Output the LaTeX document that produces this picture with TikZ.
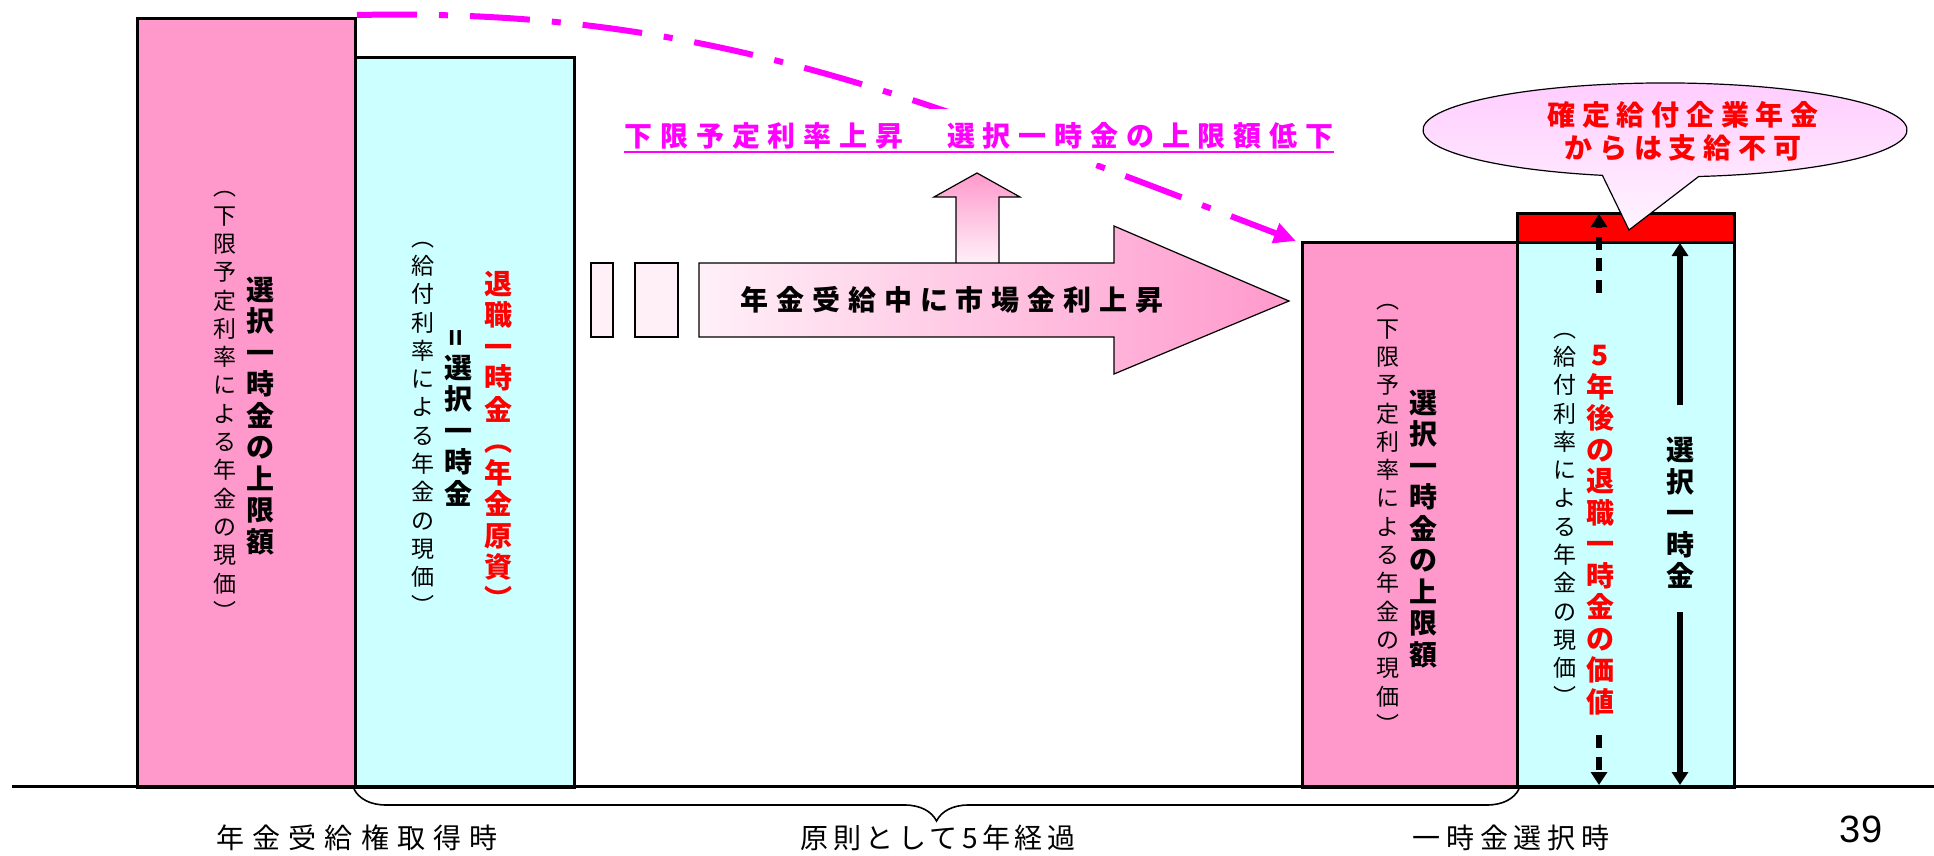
\documentclass[tikz,border=0pt]{standalone}
\usepackage{fontspec}
\usepackage{graphicx}
\newfontfamily\jp{Noto Sans CJK JP}
\newfontfamily\lsans{Liberation Sans}
\usetikzlibrary{arrows.meta,decorations.pathreplacing}
\definecolor{pk}{HTML}{FF99CC}
\definecolor{cy}{HTML}{CCFFFF}
\definecolor{lpk}{HTML}{FFF0F8}
\definecolor{mg}{HTML}{FF00FF}
\definecolor{rd}{HTML}{FF0000}
\definecolor{clt}{HTML}{FFCCFF}
\definecolor{clb}{HTML}{FFF4FF}
\begin{document}
\begin{tikzpicture}[x=0.5pt,y=-0.5pt,
  bar/.style={draw=black, line width=1.5pt, inner sep=0pt, anchor=north west},
  vbold/.style={align=center, inner sep=0pt, font=\jp\bfseries\fontsize{14}{15.75}\selectfont},
  vsmall/.style={align=center, inner sep=0pt, font=\jp\fontsize{11.5}{14.15}\selectfont},
  hbold/.style={inner sep=0pt, font=\jp\bfseries\fontsize{14}{16}\selectfont\addfontfeature{LetterSpace=28}},
  hreg/.style={inner sep=0pt, font=\jp\fontsize{14}{16}\selectfont\addfontfeature{LetterSpace=#1}},
  blk/.style={line width=2.6pt, -{Triangle[length=6.5pt,width=8pt]}},
  dsh/.style={blk, dash pattern=on 6.5pt off 4.3pt},
]
\useasboundingbox (0,0) rectangle (1934,856);

% bars
\node[bar, fill=pk, minimum width=109pt, minimum height=384.5pt] (lpink) at (136,17) {};
\node[bar, fill=cy, minimum width=109.5pt, minimum height=365pt] (lcyan) at (354,56) {};
\node[bar, fill=pk, minimum width=107.5pt, minimum height=272.5pt] (rpink) at (1301,241) {};
\node[bar, fill=rd, minimum width=108.5pt, minimum height=14.5pt] (rred) at (1516,212) {};
\node[bar, fill=cy, minimum width=108.5pt, minimum height=272.5pt] (rcyan) at (1516,241) {};

% ground line
\coordinate (gl) at (12,786);
\coordinate (gr) at (1934,786);
\draw[line width=1.5pt] (gl) -- (gr);

% brace
\draw[decorate, decoration={brace, mirror, amplitude=16pt}, line width=0.8pt] (lcyan.south west) -- (rpink.south east);

% texts in left pink
\node[vsmall] (lp1) at (225,406) {︵\\下\\限\\予\\定\\利\\率\\に\\よ\\る\\年\\金\\の\\現\\価\\︶};
\node[vbold] (lp2) at (260,416) {選\\択\\一\\時\\金\\の\\上\\限\\額};
% texts in left cyan
\node[vsmall] (lc1) at (423,428) {︵\\給\\付\\利\\率\\に\\よ\\る\\年\\金\\の\\現\\価\\︶};
\node[vbold] (lc2) at (458,418) {\rotatebox{90}{=}\\選\\択\\一\\時\\金};
\node[vbold, text=rd] (lc3) at (498,440) {退\\職\\一\\時\\金\\︵\\年\\金\\原\\資\\︶};
% texts in right pink
\node[vsmall] (rp1) at (1388,519) {︵\\下\\限\\予\\定\\利\\率\\に\\よ\\る\\年\\金\\の\\現\\価\\︶};
\node[vbold] (rp2) at (1423,529) {選\\択\\一\\時\\金\\の\\上\\限\\額};
% texts in right cyan
\node[vsmall] (rc1) at (1565,519) {︵\\給\\付\\利\\率\\に\\よ\\る\\年\\金\\の\\現\\価\\︶};
\node[vbold, text=rd] (rc2) at (1600,530) {5\\年\\後\\の\\退\\職\\一\\時\\金\\の\\価\\値};
\node[vbold] (rc3) at (1680,513) {選\\択\\一\\時\\金};

% arrows in right cyan
\coordinate (da1) at (1599,293);
\coordinate (da2) at (1599,214);
\coordinate (db1) at (1599,735);
\coordinate (db2) at (1599,785);
\coordinate (sa1) at (1680,405);
\coordinate (sa2) at (1680,243);
\coordinate (sb1) at (1680,612);
\coordinate (sb2) at (1680,785);
\draw[dsh] (da1) -- (da2);
\draw[dsh] (db1) -- (db2);
\draw[blk] (sa1) -- (sa2);
\draw[blk] (sb1) -- (sb2);

% small rectangles
\draw[fill=lpk, line width=0.6pt] (591,263) rectangle (613,337);
\draw[fill=lpk, line width=0.6pt] (635,263) rectangle (678,337);

% up arrow
\shadedraw[top color=pk, bottom color=lpk, draw=black, line width=0.6pt]
  (956,263) -- (956,197) -- (934,197) -- (977,173) -- (1020,197) -- (999,197) -- (999,263);
% big arrow
\shadedraw[left color=lpk, right color=pk, draw=black, line width=0.6pt]
  (699,263) -- (1114,263) -- (1114,226) -- (1289,301) -- (1114,374) -- (1114,337) -- (699,337) -- cycle;
\node[hbold] (bigt) at (952,300) {年金受給中に市場金利上昇};

% magenta curve
\draw[mg, line width=3pt, dash pattern=on 30pt off 11pt on 4.5pt off 11pt, -{Triangle[length=11pt,width=10pt]}]
  ([yshift=1pt]lpink.north east) .. controls (700,8) and (900,90) .. ([xshift=-2.5pt]rpink.north west);

% label
\node[hbold, text=mg, fill=white, inner ysep=7pt] (lab) at (979,136) {下限予定利率上昇　選択一時金の上限額低下};
\draw[mg, line width=1pt] ([yshift=-2.5pt]lab.base west) -- ([yshift=-2.5pt]lab.base east);

% callout
\shadedraw[top color=clt, bottom color=clb, draw=black, line width=0.6pt]
  (1698.7,176.5) arc[start angle=82, end angle=-255, x radius=242, y radius=47] -- (1629,230) -- cycle;
\node[text=rd, align=center, inner sep=0pt, font=\jp\bfseries\fontsize{14}{16.5}\selectfont\addfontfeature{LetterSpace=24}] (call) at (1683,131) {確定給付企業年金\\からは支給不可};

% bottom labels
\node[hreg=29] (b1) at (357,838) {年金受給権取得時};
\node[hreg=16] (b2) at (938,838) {原則として5年経過};
\node[hreg=21] (b3) at (1511,838) {一時金選択時};
\node[inner sep=0pt, anchor=base, font=\lsans\fontsize{19}{22}\selectfont] (pg) at (1861,842) {39};
\end{tikzpicture}
\end{document}
